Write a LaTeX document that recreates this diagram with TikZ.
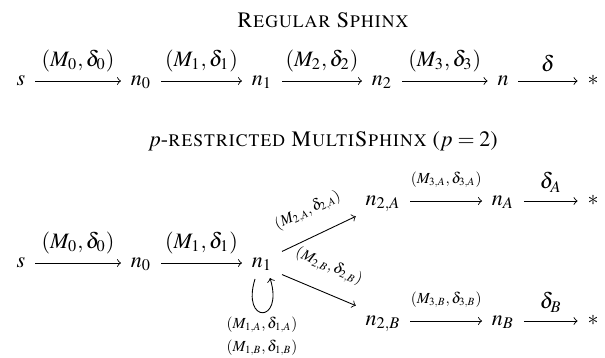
\documentclass[tikz,border=0pt]{standalone}
\usepackage[T1]{fontenc}
\usepackage{mathptmx}
\begin{document}
\begin{tikzpicture}[x=0.4545pt,y=-0.4545pt,
  st/.style={inner xsep=4.3pt, inner ysep=3.3pt, text height=1.2ex, text depth=0.35ex},
  lab/.style={font=\scriptsize},
  ttl/.style={anchor=base, inner sep=0pt},
  ar/.style={->}]
\useasboundingbox (0,0) rectangle (605,358);
% titles
\node[ttl] (t1) at (323,28) {\textsc{Regular Sphinx}};
\node[ttl] (t2) at (323,147) {$p$-\textsc{restricted} \textsc{MultiSphinx} ($p=2$)};
% top row
\node[st] (s)  at (21,81)  {$s$};
\node[st] (n0) at (141,81) {$n_0$};
\node[st] (n1) at (262,81) {$n_1$};
\node[st] (n2) at (382,81) {$n_2$};
\node[st] (n)  at (503,81) {$n$};
\node[st] (e)  at (593,81) {$*$};
\draw[ar] (s) -- node[above=0.5pt] {$(M_0,\delta_0)$} (n0);
\draw[ar] (n0) -- node[above=0.5pt] {$(M_1,\delta_1)$} (n1);
\draw[ar] (n1) -- node[above=0.5pt] {$(M_2,\delta_2)$} (n2);
\draw[ar] (n2) -- node[above=0.5pt] {$(M_3,\delta_3)$} (n);
\draw[ar] (n) -- node[above=0.5pt] {$\delta$} (e);
% bottom
\node[st] (bs)  at (21,263)  {$s$};
\node[st] (bn0) at (141,263) {$n_0$};
\node[st] (bn1) at (262,263) {$n_1$};
\node[st] (n2A) at (383,201) {$n_{2,A}$};
\node[st] (nA)  at (503,201) {$n_A$};
\node[st] (eA)  at (593,201) {$*$};
\node[st] (n2B) at (383,321) {$n_{2,B}$};
\node[st] (nB)  at (503,321) {$n_B$};
\node[st] (eB)  at (593,321) {$*$};
\draw[ar] (bs) -- node[above=0.5pt] {$(M_0,\delta_0)$} (bn0);
\draw[ar] (bn0) -- node[above=0.5pt] {$(M_1,\delta_1)$} (bn1);
\draw[ar] (bn1.30) -- node[lab,sloped,above=4.5pt] {$(M_{2,A},\delta_{2,A})$} (n2A.south west);
\draw[ar] (bn1.-30) -- node[lab,sloped,above=4.5pt] {$(M_{2,B},\delta_{2,B})$} (n2B.north west);
\draw[ar] (n2A) -- node[lab,above=2.5pt] {$(M_{3,A},\delta_{3,A})$} (nA);
\draw[ar] (n2B) -- node[lab,above=2.5pt] {$(M_{3,B},\delta_{3,B})$} (nB);
\draw[ar] (nA) -- node[above=0.5pt] {$\delta_A$} (eA);
\draw[ar] (nB) -- node[above=0.5pt] {$\delta_B$} (eB);
% loop
\coordinate (la) at (255,279);
\coordinate (lb) at (270,278);
\draw[ar] (la) .. controls (241,324) and (284,324) .. (lb);
\node[lab] (l1a) at (262,325) {$(M_{1,A},\delta_{1,A})$};
\node[lab] (l1b) at (262,348) {$(M_{1,B},\delta_{1,B})$};
\end{tikzpicture}
\end{document}
